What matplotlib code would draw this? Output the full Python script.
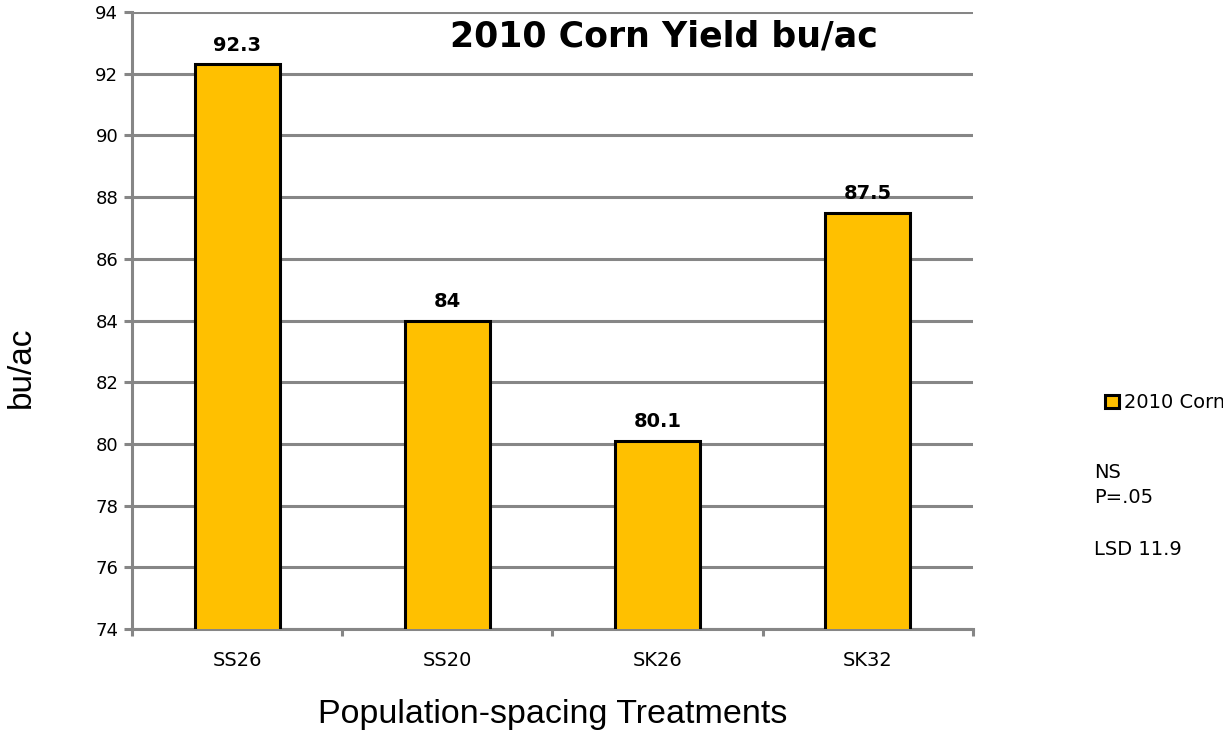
import matplotlib.pyplot as plt
import numpy as np

# data
treatments = ["SS26", "SS20", "SK26", "SK32"]
yields = [92.3, 84, 80.1, 87.5]
value_labels = ["92.3", "84", "80.1", "87.5"]

grid_col = "#868686"
bar_col = "#FFC000"

fig = plt.figure(figsize=(12.23, 7.32), dpi=100)
ax = fig.add_axes([0.108, 0.1407, 0.6875, 0.8429])

x = np.arange(len(treatments))
ax.bar(x, yields, width=0.405, color=bar_col, edgecolor="black", linewidth=2.2,
       label="2010 Corn", zorder=3)

ax.set_ylim(74, 94)
ax.set_xlim(-0.5, len(treatments) - 0.5)
ax.set_yticks(np.arange(74, 95, 2))
ax.yaxis.grid(True, color=grid_col, linewidth=2.2, zorder=0)
ax.set_axisbelow(True)

# category labels sit between the boundary ticks
ax.set_xticks(np.arange(-0.5, len(treatments), 1.0))
ax.set_xticklabels([])
ax.set_xticks(x, minor=True)
ax.set_xticklabels(treatments, minor=True, fontsize=14)
ax.tick_params(axis="x", which="minor", length=0, pad=16)
ax.tick_params(axis="x", which="major", length=5, width=2.2, color=grid_col)
ax.tick_params(axis="y", length=6, width=2.2, color=grid_col, labelsize=13, pad=4)

for s in ["top", "right"]:
    ax.spines[s].set_visible(False)
for s in ["left", "bottom"]:
    ax.spines[s].set_color(grid_col)
    ax.spines[s].set_linewidth(2.2)

for xi, v, lab in zip(x, yields, value_labels):
    ax.annotate(lab, (xi, v), textcoords="offset points", xytext=(0, 7),
                ha="center", va="bottom", fontsize=14, fontweight="bold")

ax.text(0.378, 0.9595, "2010 Corn Yield bu/ac", transform=ax.transAxes,
        ha="left", va="center", fontsize=25, fontweight="bold")

ax.set_xlabel("Population-spacing Treatments", fontsize=24.5,
              family="Liberation Sans", labelpad=21)
ax.set_ylabel("bu/ac", fontsize=24, family="Liberation Sans", labelpad=42)
ax.yaxis.label.set_y(0.4246)

fig.legend(loc="center left", bbox_to_anchor=(0.889, 0.4495), frameon=False,
           fontsize=14, handlelength=0.72, handleheight=0.6, handletextpad=0.25)

fig.text(0.8945, 0.355, "NS", fontsize=14, va="center")
fig.text(0.8945, 0.3204, "P=.05", fontsize=14, va="center")
fig.text(0.8945, 0.2493, "LSD 11.9", fontsize=14, va="center")

plt.savefig("out.png", dpi=100)
